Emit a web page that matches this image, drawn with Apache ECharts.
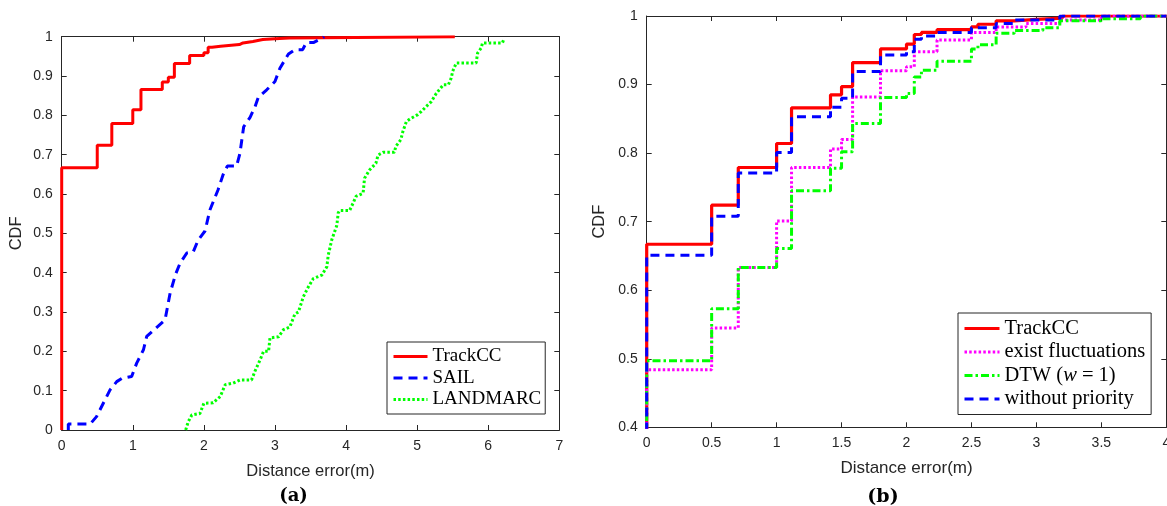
<!DOCTYPE html>
<html><head><meta charset="utf-8">
<script src="https://cdn.jsdelivr.net/npm/echarts@6/dist/echarts.min.js"></script>
<style>html,body{margin:0;padding:0;background:#fff}#c{width:1167px;height:506px}</style>
</head><body><div id="c"></div>
<script>
// ---- data ----
// (a) TrackCC, also (b) TrackCC — empirical CDF steps
const trackX = [0, 0, 0.5, 0.705, 1.0, 1.115, 1.415, 1.5, 1.585, 1.8, 2.0, 2.06, 2.115, 2.235, 2.5, 2.55, 2.69, 2.83, 3.0, 3.2, 5.53];
const trackY = [0, 0.667, 0.724, 0.779, 0.814, 0.866, 0.885, 0.897, 0.932, 0.952, 0.959, 0.973, 0.976, 0.98, 0.984, 0.988, 0.993, 0.995, 0.997, 1.0, 1.0];
// (a) SAIL
const sailX = [0.093, 0.093, 0.4, 0.49, 0.585, 0.68, 0.774, 0.844, 0.984, 1.055, 1.15, 1.196, 1.313, 1.454, 1.525, 1.6, 1.665, 1.76, 1.85, 1.92, 2.016, 2.086, 2.2, 2.27, 2.33, 2.46, 2.507, 2.56, 2.65, 2.72, 2.766, 2.884, 3.0, 3.07, 3.19, 3.28, 3.39, 3.44, 3.54, 3.68, 3.69];
const sailY = [0, 0.015, 0.015, 0.034, 0.068, 0.102, 0.123, 0.131, 0.136, 0.17, 0.204, 0.238, 0.257, 0.28, 0.348, 0.395, 0.424, 0.45, 0.453, 0.483, 0.506, 0.56, 0.611, 0.649, 0.671, 0.671, 0.703, 0.771, 0.795, 0.822, 0.846, 0.865, 0.886, 0.92, 0.956, 0.967, 0.967, 0.985, 0.985, 0.998, 1.0];
// (a) LANDMARC
const landX = [1.744, 1.78, 1.83, 1.945, 2.0, 2.13, 2.23, 2.3, 2.41, 2.51, 2.67, 2.72, 2.79, 2.84, 2.91, 2.93, 3.05, 3.12, 3.21, 3.28, 3.33, 3.40, 3.47, 3.54, 3.66, 3.73, 3.75, 3.8, 3.87, 3.89, 3.91, 4.05, 4.1, 4.14, 4.24, 4.26, 4.33, 4.42, 4.45, 4.52, 4.68, 4.7, 4.77, 4.8, 4.85, 4.92, 5.01, 5.06, 5.13, 5.2, 5.27, 5.37, 5.44, 5.48, 5.5, 5.55, 5.83, 5.85, 5.9, 5.92, 6.2, 6.22];
const landY = [0, 0.021, 0.038, 0.042, 0.068, 0.069, 0.085, 0.115, 0.119, 0.127, 0.127, 0.15, 0.178, 0.2, 0.2, 0.234, 0.237, 0.255, 0.262, 0.295, 0.30, 0.339, 0.364, 0.385, 0.394, 0.415, 0.445, 0.484, 0.52, 0.552, 0.558, 0.558, 0.577, 0.594, 0.602, 0.64, 0.661, 0.678, 0.699, 0.706, 0.706, 0.721, 0.738, 0.759, 0.785, 0.793, 0.802, 0.81, 0.823, 0.835, 0.856, 0.878, 0.878, 0.895, 0.912, 0.933, 0.933, 0.958, 0.971, 0.984, 0.984, 0.994];
// (b) exist fluctuations
const flucX = [0, 0, 0.5, 0.705, 1.0, 1.115, 1.415, 1.5, 1.585, 1.8, 2.0, 2.06, 2.235, 2.5, 2.69, 2.92, 3.18, 3.5, 4.0];
const flucY = [0, 0.484, 0.545, 0.633, 0.701, 0.779, 0.806, 0.82, 0.882, 0.92, 0.926, 0.948, 0.965, 0.976, 0.984, 0.989, 0.994, 1.0, 1.0];
// (b) DTW (w = 1)
const dtwX = [0, 0, 0.5, 0.705, 1.0, 1.115, 1.415, 1.5, 1.585, 1.8, 2.0, 2.06, 2.115, 2.235, 2.5, 2.55, 2.69, 2.83, 3.05, 3.18, 3.5, 3.8, 4.0];
const dtwY = [0, 0.497, 0.573, 0.633, 0.661, 0.745, 0.778, 0.802, 0.843, 0.881, 0.887, 0.911, 0.921, 0.934, 0.952, 0.958, 0.975, 0.979, 0.983, 0.993, 0.996, 1.0, 1.0];
// (b) without priority
const noprX = [0, 0, 0.5, 0.705, 1.0, 1.115, 1.415, 1.5, 1.585, 1.8, 2.0, 2.06, 2.115, 2.235, 2.5, 2.69, 2.83, 3.18, 4.0];
const noprY = [0, 0.651, 0.708, 0.771, 0.801, 0.853, 0.867, 0.88, 0.919, 0.943, 0.948, 0.966, 0.971, 0.976, 0.983, 0.989, 0.994, 1.0, 1.0];

const legendA = ['TrackCC', 'SAIL', 'LANDMARC'];
const legendB = ['TrackCC', 'exist fluctuations', 'DTW (w = 1)', 'without priority'];
const xTicksA = {min: 0, max: 7, interval: 1};
const xTicksB = {min: 0, max: 4, interval: 0.5};
const yTicksA = {min: 0, max: 1, interval: 0.1};
const yTicksB = {min: 0.4, max: 1, interval: 0.1};

// ---- build ----
const zip = (xs, ys) => xs.map((x, i) => [x, ys[i]]);
const AX = '#262626';
const FONT = 'Liberation Sans';
const lbl = {color: AX, fontFamily: FONT, fontSize: 14, margin: 9};
const tick = {show: true, inside: true, length: 5, lineStyle: {color: AX}};
const line = {show: true, onZero: false, lineStyle: {color: AX, width: 1}};

function xAx(g, t, pos, withName, fs, gap) {
  return Object.assign({gridIndex: g, type: 'value', position: pos, axisLine: line, axisTick: tick,
    splitLine: {show: false},
    axisLabel: withName ? lbl : {show: false},
    name: withName ? 'Distance error(m)' : '', nameLocation: 'middle', nameGap: gap || 30,
    nameTextStyle: {color: AX, fontFamily: FONT, fontSize: fs || 16}}, t);
}
function yAx(g, t, pos, withName, gap, fs) {
  return Object.assign({gridIndex: g, type: 'value', position: pos, axisLine: line, axisTick: tick,
    splitLine: {show: false},
    axisLabel: withName ? lbl : {show: false},
    name: withName ? 'CDF' : '', nameLocation: 'middle', nameGap: gap || 30,
    nameTextStyle: {color: AX, fontFamily: FONT, fontSize: fs || 16}}, t);
}
function ser(name, xi, yi, data, color, type, width, step) {
  return {name, type: 'line', xAxisIndex: xi, yAxisIndex: yi, data, step: step ? 'end' : false,
    symbol: 'none', showSymbol: false, clip: true, animation: false,
    lineStyle: {color, width, type, cap: 'butt'}, itemStyle: {color}};
}
function legendOf(fs) {
  return {orient: 'vertical', itemHeight: 14, borderColor: AX, borderWidth: 1,
    backgroundColor: '#fff', borderRadius: 0, selectedMode: false,
    itemStyle: {opacity: 0}, lineStyle: {width: 3},
    textStyle: {color: '#000', fontFamily: 'Liberation Serif', fontSize: fs,
      rich: {i: {fontStyle: 'italic', fontFamily: 'Liberation Serif', fontSize: fs, color: '#000'}}}};
}

const option = {
  animation: false,
  backgroundColor: '#fff',
  grid: [
    {left: 61.7, top: 36.7, width: 497.6, height: 393.3, outerBoundsMode: 'none', containLabel: false},
    {left: 646.7, top: 16, width: 519.6, height: 411.3, outerBoundsMode: 'none', containLabel: false}
  ],
  xAxis: [xAx(0, xTicksA, 'bottom', true, 16.5, 33), xAx(0, xTicksA, 'top', false),
          xAx(1, xTicksB, 'bottom', true, 17, 33), xAx(1, xTicksB, 'top', false)],
  yAxis: [yAx(0, yTicksA, 'left', true, 37, 16.5), yAx(0, yTicksA, 'right', false),
          yAx(1, yTicksB, 'left', true, 39, 16.5), yAx(1, yTicksB, 'right', false)],
  legend: [
    Object.assign(legendOf(19), {data: legendA, left: 387, top: 342, itemWidth: 34, itemGap: 2.5,
      padding: [5, 4, 5, 5]}),
    Object.assign(legendOf(20.5), {data: legendB, left: 958, top: 313, itemWidth: 35, itemGap: 2.5,
      padding: [5, 6, 5, 5],
      formatter: n => n === 'DTW (w = 1)' ? 'DTW ({i|w} = 1)' : n})
  ],
  series: [
    ser('TrackCC', 0, 0, zip(trackX, trackY), '#ff0000', 'solid', 3, true),
    ser('SAIL', 0, 0, zip(sailX, sailY), '#0000ff', [9, 6], 3, false),
    ser('LANDMARC', 0, 0, zip(landX, landY), '#00ff00', [2.5, 2.2], 3, false),
    ser('TrackCC', 2, 2, zip(trackX, trackY), '#ff0000', 'solid', 3.2, true),
    ser('exist fluctuations', 2, 2, zip(flucX, flucY), '#ff00ff', [2.5, 2.2], 3, true),
    ser('DTW (w = 1)', 2, 2, zip(dtwX, dtwY), '#00ff00', [8, 3, 2.5, 3], 3, true),
    ser('without priority', 2, 2, zip(noprX, noprY), '#0000ff', [9, 6], 3, true)
  ],
  graphic: [
    {type: 'text', x: 293.5, y: 496, style: {text: '(a)', font: 'bold 18px "DejaVu Serif"', fill: '#000', align: 'center', verticalAlign: 'middle'}},
    {type: 'text', x: 883, y: 497, style: {text: '(b)', font: 'bold 19px "DejaVu Serif"', fill: '#000', align: 'center', verticalAlign: 'middle'}}
  ]
};
const chart = echarts.init(document.getElementById('c'), null, {renderer: 'canvas'});
chart.setOption(option);
</script></body></html>
